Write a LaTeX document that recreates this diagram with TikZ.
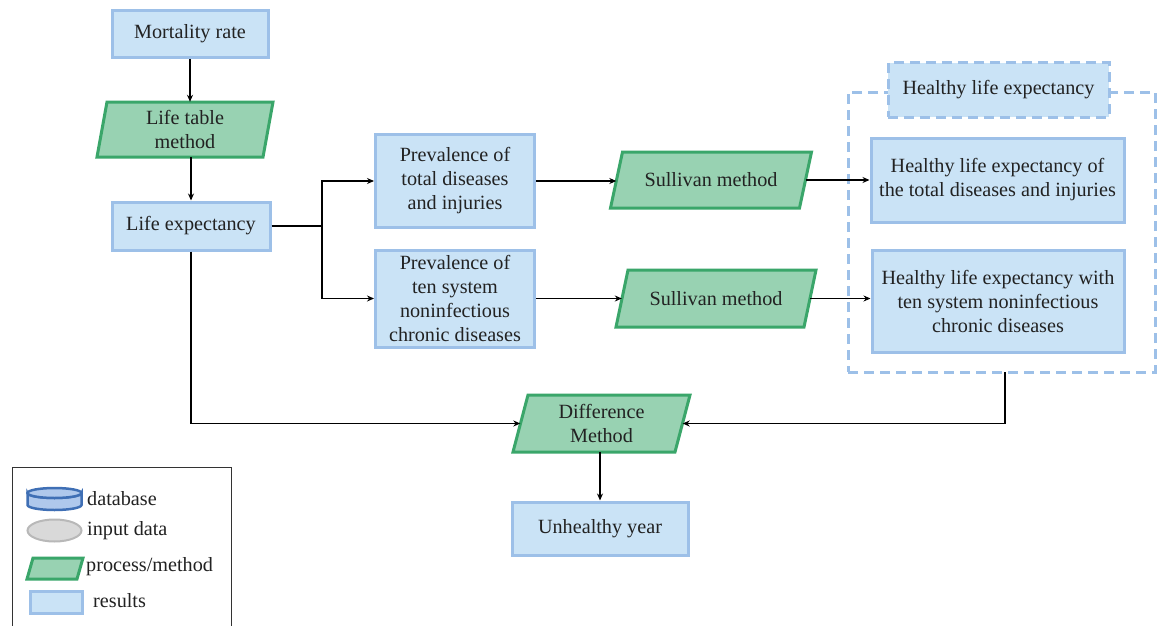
\documentclass[tikz,border=0pt]{standalone}
\usepackage{fontspec}
\setmainfont{Liberation Serif}
\usetikzlibrary{calc,arrows.meta}
\definecolor{boxfill}{HTML}{CAE3F6}
\definecolor{boxdraw}{HTML}{9DC0E8}
\definecolor{gfill}{HTML}{98D2B2}
\definecolor{gdraw}{HTML}{3AA66A}
\definecolor{txt}{HTML}{222222}
\definecolor{dbfill}{HTML}{AFC8EC}
\definecolor{dbdraw}{HTML}{3F6FB5}
\tikzset{
  base/.style={font=\fontspec{Liberation Serif}\fontsize{20.2}{24}\selectfont, text=txt, align=center, inner sep=0pt},
  bluebox/.style={base, rectangle, fill=boxfill, draw=boxdraw, line width=3pt},
  pshape/.style={fill=gfill, draw=gdraw, line width=3pt, line join=miter},
  ptext/.style={base, rectangle},
  arr/.style={line width=1.6pt, black, -{Stealth[length=7pt,width=6pt]}},
  ln/.style={line width=1.6pt, black},
  legtext/.style={base, anchor=west}
}
\newcommand{\para}[7]{%
  \path[pshape] ($(#2,#3)+(-#4/2+#6/2,#5/2)$) -- ($(#2,#3)+(#4/2+#6/2,#5/2)$) -- ($(#2,#3)+(#4/2-#6/2,-#5/2)$) -- ($(#2,#3)+(-#4/2-#6/2,-#5/2)$) -- cycle;
  \node[ptext, minimum width=#4pt, minimum height=#5pt] (#1) at (#2,#3) {#7};
}
\begin{document}
\begin{tikzpicture}[x=1pt,y=1pt]
\useasboundingbox[fill=white] (0,0) rectangle (1159,-626);

% left column
\node[bluebox, minimum width=156pt, minimum height=47pt] (mr) at (190,-34) {Mortality rate};
\para{ltm}{185}{-129.5}{166}{55}{10}{Life table\\method}
\node[bluebox, minimum width=158pt, minimum height=48pt] (le) at (191,-226) {Life expectancy};

% prevalence
\node[bluebox, minimum width=159pt, minimum height=93pt] (pv1) at (455,-181) {Prevalence of\\total diseases\\and injuries};
\node[bluebox, minimum width=159pt, minimum height=97pt] (pv2) at (455,-298.5) {Prevalence of\\ten system\\noninfectious\\chronic diseases};

% Sullivan
\para{sm1}{711}{-180}{189}{56}{12}{Sullivan method}
\para{sm2}{716}{-298.5}{188}{57}{12}{Sullivan method}

% container
\node[rectangle, draw=boxdraw, dashed, dash pattern=on 10pt off 6pt, line width=3pt, minimum width=307pt, minimum height=280pt, inner sep=0pt] (hle) at (1001.5,-232) {};
\node[bluebox, dashed, dash pattern=on 10pt off 6pt, minimum width=221pt, minimum height=54pt] (hlel) at (998.5,-90) {Healthy life expectancy};
\node[bluebox, minimum width=253pt, minimum height=84pt] (h1) at (997.5,-180) {Healthy life expectancy of\\the total diseases and injuries};
\node[bluebox, minimum width=252pt, minimum height=102pt] (h2) at (998,-301) {Healthy life expectancy with\\ten system noninfectious\\chronic diseases};

% difference and result
\para{dm}{601.5}{-423.5}{162}{57}{15}{Difference\\Method}
\node[bluebox, minimum width=176pt, minimum height=53pt] (uy) at (600,-528.5) {Unhealthy year};

% connectors
\draw[arr] (mr.south) -- (mr.south |- ltm.north);
\draw[arr] (ltm.south -| le.north) -- (le.north);
\coordinate (br) at (322,-226);
\draw[ln] (le.east) -- (br);
\draw[arr] (br) |- (pv1.west);
\draw[arr] (br) |- (pv2.west);
\draw[arr] (pv1.east) -- (pv1.east -| sm1.west);
\draw[arr] (pv2.east) -- (pv2.east -| sm2.west);
\draw[arr] (sm1.east) -- (sm1.east -| h1.west);
\draw[arr] (sm2.east) -- (sm2.east -| h2.west);
\draw[arr] (le.south) |- (dm.west);
\coordinate (cb) at (1005,-372);
\draw[arr] (cb) |- (dm.east);
\draw[arr] (dm.south -| uy.north) -- (uy.north);

% legend
\draw[line width=1pt, black!80] (12,-630) -- (12,-467) -- (231,-467) -- (231,-630);
\path[fill=dbfill, draw=dbdraw, line width=2.5pt] (27.5,-493) -- (27.5,-505) arc[start angle=180, end angle=360, x radius=27pt, y radius=5pt] -- (81.5,-493) arc[start angle=0, end angle=-180, x radius=27pt, y radius=5pt] -- cycle;
\draw[fill=dbfill, draw=dbdraw, line width=2.5pt] (54.5,-493) ellipse [x radius=27pt, y radius=5pt];
\node[legtext] (l1) at (87,-499) {database};
\draw[fill=black!15, draw=black!28, line width=2pt] (54.5,-530.5) ellipse [x radius=27pt, y radius=11pt];
\node[legtext] (l2) at (87,-531) {input data};
\path[pshape] (33,-558) -- (83,-558) -- (77,-579) -- (27,-579) -- cycle;
\node[legtext] (l3) at (86,-567) {process/method};
\path[fill=boxfill, draw=boxdraw, line width=3pt] (30,-591) rectangle (82,-613);
\node[legtext] (l4) at (93,-601) {results};
\end{tikzpicture}
\end{document}
